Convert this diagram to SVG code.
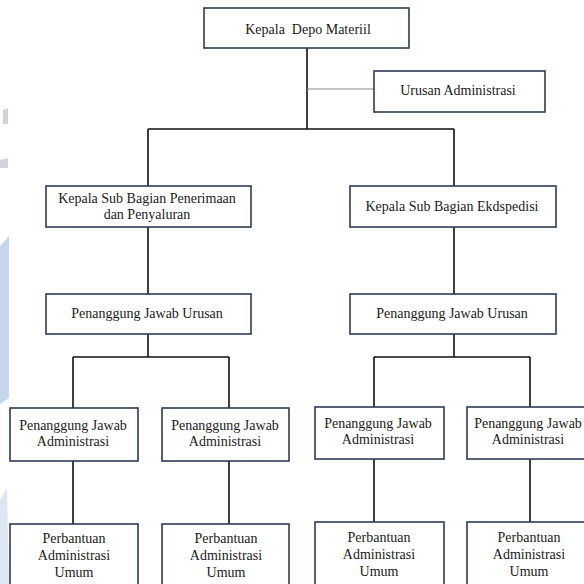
<svg xmlns="http://www.w3.org/2000/svg" width="584" height="584" viewBox="0 0 584 584">
<style>
.box{fill:#ffffff;stroke:#2e3b55;stroke-width:1.6}
.t{font-family:'Liberation Serif','DejaVu Serif',serif;font-size:14px;fill:#1a1a1a;text-anchor:middle;white-space:pre}
.c{fill:none;stroke:#111111;stroke-width:1.6}
.g{fill:none;stroke:#8a8a8a;stroke-width:1.2}
</style>
<rect width="584" height="584" fill="#ffffff"/>
<g id="watermark" fill="#b9cde6" opacity="0.8">
<polygon points="0,246 9,236 9,398 0,404"/>
<polygon points="0,500 7,488 9,584 0,584" opacity="0.6"/>
<polygon points="3,110 8,108 8,124 3,124" fill="#c8c8d6"/>
<polygon points="0,160 8,158 8,168 0,168" fill="#c8c8d6"/>
</g>
<g id="connectors">
<path class="c" d="M307,48 V129"/>
<path class="g" d="M307,89 H374"/>
<path class="c" d="M148,129 H454 M148,129 V186 M454,129 V186"/>
<path class="c" d="M148,227 V294 M454,227 V294"/>
<path class="c" d="M148,334 V357 M73,357 H229 M73,357 V408 M229,357 V408"/>
<path class="c" d="M454,334 V357 M374,357 H530 M374,357 V407 M530,357 V407"/>
<path class="c" d="M73,461 V524 M229,461 V524 M374,459 V522 M530,459 V522"/>
</g>
<g id="n-kepala-depo"><rect class="box" x="204" y="8" width="205" height="40"/><text class="t" x="308" y="34" xml:space="preserve">Kepala  Depo Materiil</text></g>
<g id="n-urusan-adm"><rect class="box" x="374" y="71" width="171" height="41"/><text class="t" x="458" y="95">Urusan Administrasi</text></g>
<g id="n-kasub-penerimaan"><rect class="box" x="46" y="186" width="205" height="41"/><text class="t" x="147" y="203">Kepala Sub Bagian Penerimaan</text><text class="t" x="147" y="219">dan Penyaluran</text></g>
<g id="n-kasub-ekspedisi"><rect class="box" x="350" y="186" width="206" height="41"/><text class="t" x="452" y="211">Kepala Sub Bagian Ekdspedisi</text></g>
<g id="n-pju-left"><rect class="box" x="46" y="294" width="205" height="40"/><text class="t" x="147" y="318">Penanggung Jawab Urusan</text></g>
<g id="n-pju-right"><rect class="box" x="350" y="294" width="206" height="40"/><text class="t" x="452" y="318">Penanggung Jawab Urusan</text></g>
<g id="n-pja-1"><rect class="box" x="10" y="408" width="128" height="53"/><text class="t" x="73" y="430">Penanggung Jawab</text><text class="t" x="73" y="446">Administrasi</text></g>
<g id="n-pja-2"><rect class="box" x="162" y="408" width="127" height="53"/><text class="t" x="225" y="430">Penanggung Jawab</text><text class="t" x="225" y="446">Administrasi</text></g>
<g id="n-pja-3"><rect class="box" x="315" y="407" width="129" height="52"/><text class="t" x="378" y="428">Penanggung Jawab</text><text class="t" x="378" y="444">Administrasi</text></g>
<g id="n-pja-4"><rect class="box" x="467" y="407" width="125" height="52"/><text class="t" x="528" y="428">Penanggung Jawab</text><text class="t" x="528" y="444">Administrasi</text></g>
<g id="n-pau-1"><rect class="box" x="10" y="524" width="128" height="70"/><text class="t" x="74" y="543">Perbantuan</text><text class="t" x="74" y="560">Administrasi</text><text class="t" x="74" y="577">Umum</text></g>
<g id="n-pau-2"><rect class="box" x="162" y="524" width="127" height="70"/><text class="t" x="226" y="543">Perbantuan</text><text class="t" x="226" y="560">Administrasi</text><text class="t" x="226" y="577">Umum</text></g>
<g id="n-pau-3"><rect class="box" x="315" y="522" width="129" height="72"/><text class="t" x="379" y="542">Perbantuan</text><text class="t" x="379" y="559">Administrasi</text><text class="t" x="379" y="576">Umum</text></g>
<g id="n-pau-4"><rect class="box" x="467" y="522" width="125" height="72"/><text class="t" x="529" y="542">Perbantuan</text><text class="t" x="529" y="559">Administrasi</text><text class="t" x="529" y="576">Umum</text></g>
</svg>
